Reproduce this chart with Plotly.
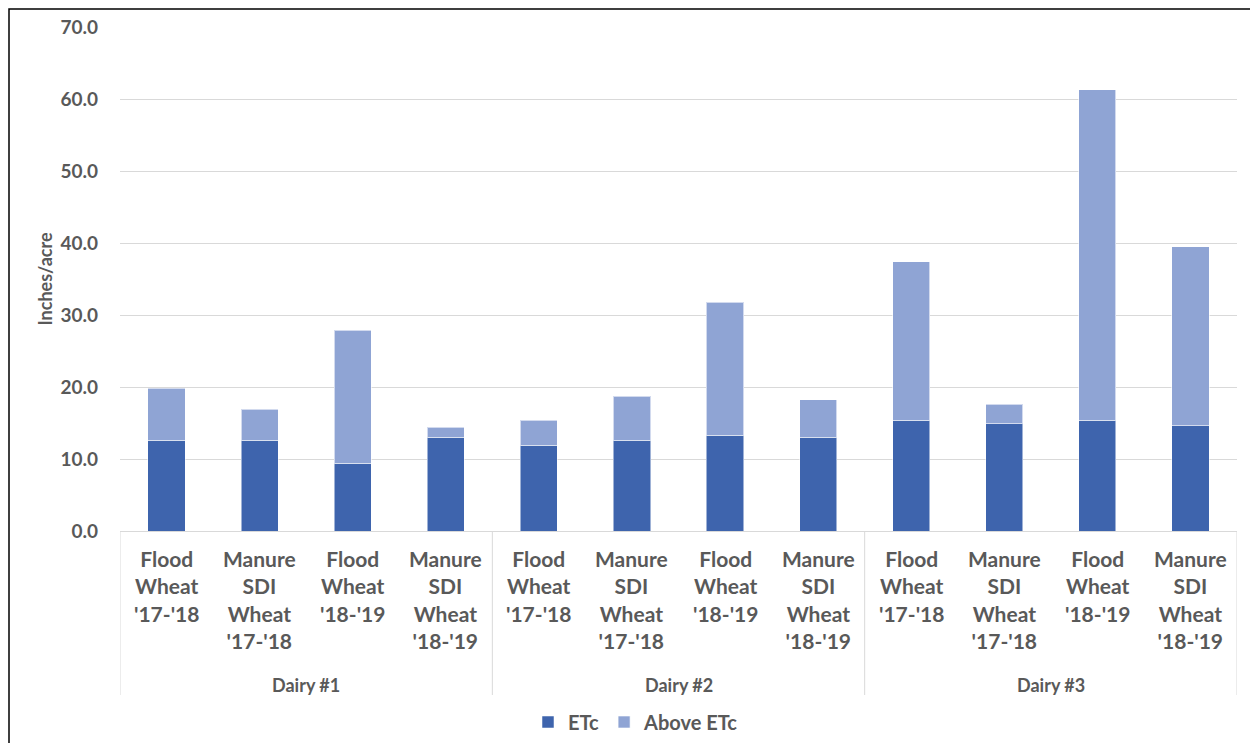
import plotly.graph_objects as go

groups = ["Dairy #1", "Dairy #2", "Dairy #3"]
labels = ["Flood<br>Wheat<br>'17-'18", "Manure<br>SDI<br>Wheat<br>'17-'18",
          "Flood<br>Wheat<br>'18-'19", "Manure<br>SDI<br>Wheat<br>'18-'19"]
etc = [12.6, 12.6, 9.4, 13.0, 11.9, 12.6, 13.3, 13.0, 15.4, 14.9, 15.4, 14.6]
total = [19.8, 16.9, 27.9, 14.4, 15.4, 18.7, 31.8, 18.2, 37.4, 17.6, 61.3, 39.5]
above = [round(t - e, 1) for t, e in zip(total, etc)]
yticks = [0, 10, 20, 30, 40, 50, 60, 70]

xs = list(range(len(etc)))
FONT = "Lato"
GREY = "#595959"

# page has an 8px body offset
W, H = 1250, 735
L, T, R, B = 112, 19, 21, 212
PH = H - T - B  # 504
PW = W - L - R  # 1117


def py(page_y):
    return (T + 8 + PH - page_y) / PH


def px(page_x):
    return (page_x - 8 - L) / PW


fig = go.Figure()
fig.add_trace(go.Bar(x=xs, y=etc, name="ETc", marker=dict(color="#3E64AD",
              line=dict(color="rgba(255,255,255,0.5)", width=1)), width=0.4))
fig.add_trace(go.Bar(x=xs, y=above, name="Above ETc", marker=dict(color="#8FA4D4",
              line=dict(color="rgba(255,255,255,0.6)", width=1)), width=0.4))

ann = []
for i in xs:
    ann.append(dict(x=i, y=-0.026, xref="x", yref="paper", text=labels[i % 4],
                    showarrow=False, yanchor="top", xanchor="center",
                    font=dict(family=FONT, size=21, color=GREY, weight="bold")))
for g, name in enumerate(groups):
    ann.append(dict(x=g * 4 + 1.5, y=py(685), xref="x", yref="paper", text=name,
                    showarrow=False, yanchor="middle", xanchor="center",
                    font=dict(family=FONT, size=18, color=GREY, weight="bold")))

shapes = []
for b in [-0.5, 3.5, 7.5, 11.5]:
    shapes.append(dict(type="line", x0=b, x1=b, xref="x", yref="paper",
                       y0=0, y1=py(695), line=dict(color="#D9D9D9", width=1)))
shapes.append(dict(type="rect", xref="paper", yref="paper",
                   x0=(1 - L) / PW, x1=(1245 - L) / PW,
                   y0=(B - H - 10) / PH, y1=(PH + T - 1) / PH,
                   line=dict(color="black", width=1.5), layer="below"))

fig.update_layout(
    barmode="stack",
    width=W, height=H,
    margin=dict(l=L, r=R, t=T, b=B, autoexpand=False),
    plot_bgcolor="white", paper_bgcolor="white",
    font=dict(family=FONT, color=GREY),
    xaxis=dict(range=[-0.5, 11.5], showticklabels=False, showgrid=False,
               zeroline=False, showline=True, linecolor="#D9D9D9", linewidth=1, ticks=""),
    yaxis=dict(range=[0, 70], tickvals=yticks, ticktext=[f"{v:.1f}" for v in yticks],
               showgrid=True, gridcolor="#D9D9D9", gridwidth=1, zeroline=False,
               tickfont=dict(family=FONT, size=19, color=GREY, weight="bold"),
               ticklabelstandoff=21, automargin=False,
               title=dict(text="Inches/acre", standoff=3,
                          font=dict(family=FONT, size=18, color=GREY, weight="bold"))),
    legend=dict(orientation="h", x=px(636), xanchor="center", y=py(722),
                yanchor="middle", font=dict(family=FONT, size=20, color=GREY, weight="bold"),
                traceorder="normal", itemwidth=30),
    annotations=ann, shapes=shapes, showlegend=True,
)
fig.write_html("out.html")
